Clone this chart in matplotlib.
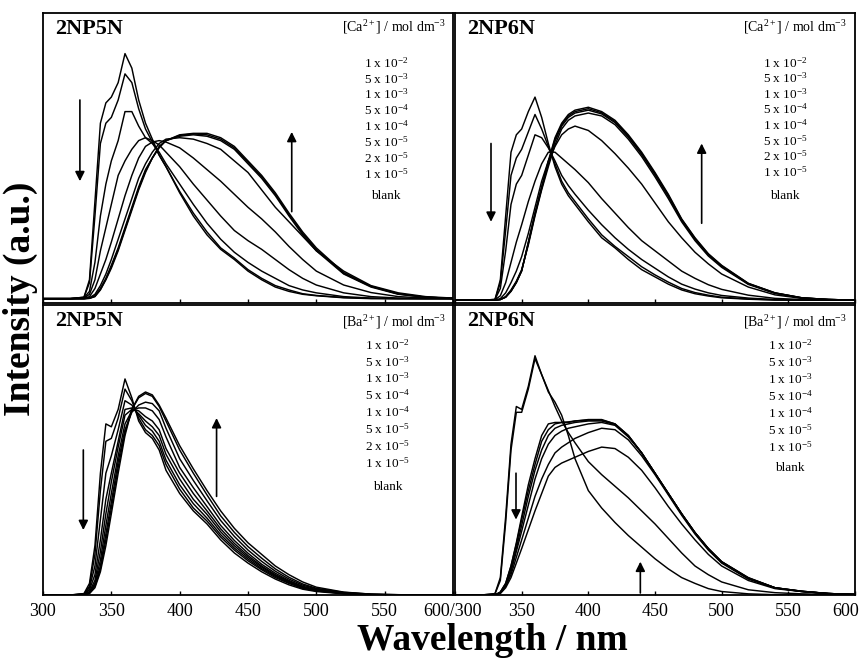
import matplotlib
matplotlib.use("Agg")
import matplotlib.pyplot as plt
import matplotlib.transforms as mtransforms

plt.rcParams['font.family'] = ['Liberation Serif', 'DejaVu Serif']
plt.rcParams['mathtext.fontset'] = 'custom'
plt.rcParams['mathtext.rm'] = 'Liberation Serif'
plt.rcParams['mathtext.it'] = 'Liberation Serif:italic'
plt.rcParams['mathtext.bf'] = 'Liberation Serif:bold'

# wavelength grid (nm) the spectra were read at
wl = [300, 320, 330, 334, 338, 342, 346, 350, 355, 360, 365, 370, 375, 380, 385, 390,
      400, 410, 420, 430, 440, 450, 460, 470, 480, 490, 500, 520, 540, 560, 580, 600]

# ---- 2NP5N + Ca2+ ----
ca5_blank = [0.015, 0.015, 0.02, 0.08, 0.35, 0.62, 0.69, 0.71, 0.76, 0.86, 0.81, 0.70, 0.62, 0.565, 0.51, 0.47,
             0.38, 0.30, 0.235, 0.185, 0.15, 0.11, 0.08, 0.055, 0.04, 0.03, 0.025, 0.018, 0.015, 0.015, 0.015, 0.015]
ca5_1e5 = [0.015, 0.015, 0.02, 0.07, 0.30, 0.55, 0.62, 0.64, 0.70, 0.79, 0.76, 0.67, 0.60, 0.555, 0.51, 0.47,
           0.385, 0.31, 0.245, 0.19, 0.155, 0.115, 0.085, 0.06, 0.045, 0.032, 0.026, 0.019, 0.016, 0.015, 0.015, 0.015]
ca5_2e5 = [0.015, 0.015, 0.018, 0.04, 0.14, 0.30, 0.41, 0.49, 0.56, 0.66, 0.66, 0.61, 0.57, 0.55, 0.52, 0.48,
           0.41, 0.34, 0.275, 0.22, 0.175, 0.14, 0.11, 0.085, 0.06, 0.045, 0.035, 0.022, 0.017, 0.015, 0.015, 0.015]
ca5_5e5 = [0.015, 0.015, 0.017, 0.03, 0.08, 0.18, 0.26, 0.34, 0.44, 0.49, 0.53, 0.56, 0.57, 0.56, 0.545, 0.52,
           0.47, 0.41, 0.355, 0.30, 0.25, 0.215, 0.185, 0.15, 0.115, 0.085, 0.062, 0.035, 0.022, 0.017, 0.015, 0.015]
ca5_1e4 = [0.015, 0.015, 0.016, 0.022, 0.05, 0.10, 0.15, 0.21, 0.29, 0.37, 0.44, 0.50, 0.54, 0.555, 0.56, 0.555,
           0.535, 0.50, 0.46, 0.42, 0.375, 0.33, 0.29, 0.245, 0.195, 0.15, 0.11, 0.062, 0.036, 0.022, 0.017, 0.015]
ca5_5e4 = [0.015, 0.015, 0.015, 0.018, 0.03, 0.06, 0.10, 0.15, 0.22, 0.29, 0.36, 0.43, 0.48, 0.52, 0.55, 0.565,
           0.57, 0.565, 0.55, 0.53, 0.49, 0.45, 0.39, 0.33, 0.28, 0.23, 0.18, 0.11, 0.06, 0.035, 0.022, 0.017]
ca5_1e3 = [0.015, 0.015, 0.015, 0.017, 0.025, 0.05, 0.085, 0.13, 0.19, 0.26, 0.33, 0.40, 0.46, 0.50, 0.54, 0.56,
           0.575, 0.58, 0.575, 0.56, 0.53, 0.48, 0.43, 0.37, 0.30, 0.235, 0.18, 0.10, 0.055, 0.03, 0.02, 0.016]
ca5_5e3 = [0.015, 0.015, 0.015, 0.016, 0.023, 0.047, 0.082, 0.125, 0.185, 0.255, 0.325, 0.395, 0.455, 0.50, 0.538, 0.56,
           0.578, 0.583, 0.58, 0.565, 0.535, 0.485, 0.435, 0.375, 0.305, 0.24, 0.185, 0.102, 0.057, 0.031, 0.02, 0.016]
ca5_1e2 = [0.015, 0.015, 0.015, 0.016, 0.022, 0.045, 0.08, 0.12, 0.18, 0.25, 0.32, 0.39, 0.45, 0.50, 0.535, 0.56,
           0.58, 0.585, 0.585, 0.57, 0.54, 0.49, 0.44, 0.38, 0.31, 0.245, 0.19, 0.105, 0.058, 0.032, 0.02, 0.016]

# ---- 2NP6N + Ca2+ ----
ca6_blank = [0.01, 0.01, 0.012, 0.08, 0.30, 0.52, 0.58, 0.60, 0.66, 0.71, 0.64, 0.55, 0.47, 0.41, 0.37, 0.34,
             0.28, 0.225, 0.19, 0.15, 0.115, 0.09, 0.065, 0.045, 0.032, 0.024, 0.018, 0.013, 0.01, 0.01, 0.01, 0.01]
ca6_1e5 = [0.01, 0.01, 0.012, 0.07, 0.25, 0.44, 0.50, 0.53, 0.59, 0.65, 0.60, 0.54, 0.48, 0.42, 0.38, 0.35,
           0.29, 0.235, 0.195, 0.16, 0.125, 0.097, 0.072, 0.05, 0.036, 0.027, 0.02, 0.014, 0.011, 0.01, 0.01, 0.01]
ca6_2e5 = [0.01, 0.01, 0.012, 0.05, 0.18, 0.34, 0.41, 0.44, 0.51, 0.58, 0.57, 0.535, 0.49, 0.44, 0.405, 0.375,
           0.32, 0.27, 0.225, 0.185, 0.15, 0.12, 0.09, 0.065, 0.048, 0.035, 0.026, 0.017, 0.012, 0.01, 0.01, 0.01]
ca6_5e5 = [0.01, 0.01, 0.011, 0.025, 0.07, 0.14, 0.21, 0.27, 0.35, 0.42, 0.48, 0.52, 0.52, 0.50, 0.48, 0.46,
           0.415, 0.36, 0.31, 0.26, 0.215, 0.18, 0.145, 0.11, 0.085, 0.063, 0.047, 0.027, 0.016, 0.012, 0.01, 0.01]
ca6_1e4 = [0.01, 0.01, 0.01, 0.015, 0.035, 0.07, 0.11, 0.16, 0.24, 0.33, 0.42, 0.49, 0.54, 0.58, 0.60, 0.61,
           0.595, 0.56, 0.515, 0.465, 0.41, 0.345, 0.28, 0.225, 0.175, 0.135, 0.10, 0.055, 0.028, 0.016, 0.012, 0.01]
ca6_5e4 = [0.01, 0.01, 0.01, 0.012, 0.022, 0.045, 0.075, 0.115, 0.20, 0.30, 0.39, 0.47, 0.545, 0.60, 0.63, 0.645,
           0.655, 0.645, 0.615, 0.565, 0.505, 0.435, 0.36, 0.28, 0.215, 0.162, 0.123, 0.064, 0.033, 0.017, 0.012, 0.01]
ca6_1e3 = [0.01, 0.01, 0.01, 0.012, 0.021, 0.042, 0.072, 0.112, 0.205, 0.305, 0.395, 0.48, 0.557, 0.61, 0.64, 0.655,
           0.665, 0.652, 0.622, 0.572, 0.512, 0.442, 0.367, 0.285, 0.22, 0.166, 0.126, 0.066, 0.034, 0.018, 0.012, 0.01]
ca6_5e3 = [0.01, 0.01, 0.01, 0.012, 0.02, 0.041, 0.071, 0.111, 0.208, 0.308, 0.398, 0.485, 0.565, 0.615, 0.645, 0.66,
           0.67, 0.656, 0.626, 0.576, 0.516, 0.446, 0.371, 0.288, 0.223, 0.168, 0.128, 0.067, 0.035, 0.018, 0.012, 0.01]
ca6_1e2 = [0.01, 0.01, 0.01, 0.012, 0.02, 0.04, 0.07, 0.11, 0.21, 0.31, 0.40, 0.49, 0.57, 0.62, 0.65, 0.665,
           0.675, 0.66, 0.63, 0.58, 0.52, 0.45, 0.375, 0.29, 0.225, 0.17, 0.13, 0.068, 0.035, 0.018, 0.012, 0.01]

# ---- 2NP5N + Ba2+ ----
ba5_blank = [0, 0, 0.005, 0.04, 0.17, 0.42, 0.59, 0.58, 0.64, 0.745, 0.68, 0.60, 0.56, 0.54, 0.50, 0.43,
             0.35, 0.29, 0.245, 0.19, 0.145, 0.11, 0.08, 0.055, 0.035, 0.02, 0.012, 0.004, 0.001, 0, 0, 0]
ba5_1e5 = [0, 0, 0.004, 0.03, 0.14, 0.36, 0.53, 0.54, 0.61, 0.71, 0.67, 0.61, 0.57, 0.55, 0.515, 0.45,
           0.365, 0.30, 0.255, 0.20, 0.155, 0.118, 0.087, 0.06, 0.04, 0.023, 0.014, 0.005, 0.001, 0, 0, 0]
ba5_2e5 = [0, 0, 0.003, 0.025, 0.10, 0.26, 0.42, 0.48, 0.57, 0.67, 0.655, 0.62, 0.585, 0.565, 0.53, 0.465,
           0.38, 0.315, 0.265, 0.208, 0.162, 0.124, 0.091, 0.064, 0.042, 0.025, 0.015, 0.005, 0.001, 0, 0, 0]
ba5_5e5 = [0, 0, 0.002, 0.018, 0.07, 0.19, 0.33, 0.42, 0.53, 0.64, 0.645, 0.625, 0.60, 0.58, 0.55, 0.485,
           0.40, 0.33, 0.278, 0.218, 0.17, 0.13, 0.096, 0.067, 0.045, 0.027, 0.016, 0.006, 0.001, 0, 0, 0]
ba5_1e4 = [0, 0, 0.002, 0.012, 0.05, 0.15, 0.28, 0.39, 0.51, 0.62, 0.64, 0.635, 0.615, 0.60, 0.57, 0.505,
           0.42, 0.35, 0.29, 0.228, 0.178, 0.136, 0.10, 0.07, 0.047, 0.028, 0.017, 0.006, 0.001, 0, 0, 0]
ba5_5e4 = [0, 0, 0.001, 0.01, 0.04, 0.12, 0.24, 0.35, 0.48, 0.59, 0.635, 0.645, 0.645, 0.635, 0.605, 0.545,
           0.44, 0.37, 0.305, 0.24, 0.188, 0.144, 0.106, 0.075, 0.05, 0.03, 0.018, 0.007, 0.002, 0, 0, 0]
ba5_1e3 = [0, 0, 0.001, 0.008, 0.035, 0.10, 0.21, 0.32, 0.46, 0.57, 0.63, 0.655, 0.665, 0.66, 0.635, 0.575,
           0.47, 0.395, 0.325, 0.257, 0.202, 0.155, 0.116, 0.082, 0.055, 0.034, 0.021, 0.008, 0.002, 0, 0, 0]
ba5_5e3 = [0, 0, 0, 0.006, 0.03, 0.09, 0.19, 0.30, 0.44, 0.56, 0.64, 0.68, 0.695, 0.685, 0.65, 0.60,
           0.50, 0.42, 0.345, 0.273, 0.216, 0.167, 0.127, 0.09, 0.061, 0.038, 0.023, 0.009, 0.003, 0.001, 0, 0]
ba5_1e2 = [0, 0, 0, 0.005, 0.025, 0.08, 0.17, 0.28, 0.42, 0.55, 0.64, 0.685, 0.70, 0.69, 0.655, 0.61,
           0.515, 0.435, 0.36, 0.29, 0.23, 0.18, 0.14, 0.10, 0.07, 0.045, 0.027, 0.01, 0.003, 0.001, 0, 0]

# ---- 2NP6N + Ba2+ ----
ba6_blank = [0, 0, 0.005, 0.06, 0.27, 0.52, 0.65, 0.64, 0.72, 0.825, 0.76, 0.70, 0.665, 0.62, 0.55, 0.47,
             0.36, 0.30, 0.25, 0.205, 0.165, 0.125, 0.09, 0.06, 0.04, 0.022, 0.012, 0.004, 0.001, 0, 0, 0]
ba6_1e5 = [0, 0, 0.004, 0.05, 0.25, 0.50, 0.63, 0.63, 0.71, 0.815, 0.76, 0.705, 0.65, 0.60, 0.56, 0.525,
           0.46, 0.415, 0.375, 0.335, 0.29, 0.245, 0.195, 0.145, 0.10, 0.07, 0.045, 0.018, 0.008, 0.004, 0.002, 0]
ba6_5e5 = [0, 0, 0, 0.005, 0.025, 0.06, 0.11, 0.16, 0.225, 0.29, 0.35, 0.41, 0.44, 0.455, 0.465, 0.475,
           0.495, 0.51, 0.505, 0.475, 0.43, 0.37, 0.305, 0.245, 0.19, 0.14, 0.10, 0.05, 0.022, 0.012, 0.005, 0.002]
ba6_1e4 = [0, 0, 0, 0.007, 0.03, 0.07, 0.13, 0.19, 0.265, 0.34, 0.40, 0.45, 0.49, 0.51, 0.525, 0.54,
           0.56, 0.575, 0.57, 0.535, 0.48, 0.415, 0.345, 0.275, 0.21, 0.155, 0.11, 0.055, 0.024, 0.012, 0.005, 0.002]
ba6_5e4 = [0, 0, 0, 0.008, 0.033, 0.08, 0.15, 0.22, 0.31, 0.40, 0.47, 0.52, 0.55, 0.565, 0.575, 0.58,
           0.59, 0.595, 0.585, 0.545, 0.49, 0.42, 0.35, 0.28, 0.215, 0.16, 0.113, 0.057, 0.025, 0.013, 0.005, 0.002]
ba6_1e3 = [0, 0, 0, 0.009, 0.036, 0.09, 0.16, 0.24, 0.34, 0.43, 0.50, 0.55, 0.575, 0.585, 0.59, 0.595,
           0.60, 0.60, 0.588, 0.548, 0.49, 0.42, 0.35, 0.28, 0.215, 0.16, 0.114, 0.058, 0.025, 0.013, 0.005, 0.002]
ba6_5e3 = [0, 0, 0, 0.01, 0.04, 0.10, 0.175, 0.26, 0.36, 0.45, 0.53, 0.57, 0.59, 0.595, 0.597, 0.60,
           0.603, 0.603, 0.59, 0.55, 0.49, 0.42, 0.35, 0.28, 0.215, 0.16, 0.115, 0.059, 0.025, 0.013, 0.005, 0.002]
ba6_1e2 = [0, 0, 0, 0.01, 0.04, 0.10, 0.18, 0.27, 0.38, 0.47, 0.55, 0.59, 0.595, 0.595, 0.595, 0.60,
           0.605, 0.605, 0.59, 0.55, 0.49, 0.42, 0.35, 0.28, 0.215, 0.16, 0.115, 0.06, 0.025, 0.012, 0.005, 0.002]

conc9 = ['1 x 10$^{-2}$', '5 x 10$^{-3}$', '1 x 10$^{-3}$', '5 x 10$^{-4}$', '1 x 10$^{-4}$',
         '5 x 10$^{-5}$', '2 x 10$^{-5}$', '1 x 10$^{-5}$', 'blank']
conc8 = ['1 x 10$^{-2}$', '5 x 10$^{-3}$', '1 x 10$^{-3}$', '5 x 10$^{-4}$', '1 x 10$^{-4}$',
         '5 x 10$^{-5}$', '1 x 10$^{-5}$', 'blank']

xticks = [300, 350, 400, 450, 500, 550, 600]

W, H = 866, 658
fig = plt.figure(figsize=(W / 100, H / 100), dpi=100)


def add_ax(l, t, r, b):
    return fig.add_axes([l / W, 1 - b / H, (r - l) / W, (b - t) / H])


panels = [
    # axes box (px), name, ion, curves, legend labels, header/first/last row offsets (px), arrows
    dict(box=(43, 13, 453, 303), name='2NP5N', ion='Ca',
         curves=[ca5_blank, ca5_1e5, ca5_2e5, ca5_5e5, ca5_1e4, ca5_5e4, ca5_1e3, ca5_5e3, ca5_1e2],
         labels=conc9, head=14, first=50, last=161, blank=183, lx=0.855, cx=0.837,
         arrows=[(327, 0.70, 0.42), (482, 0.315, 0.59)]),
    dict(box=(455, 13, 855, 303), name='2NP6N', ion='Ca',
         curves=[ca6_blank, ca6_1e5, ca6_2e5, ca6_5e5, ca6_1e4, ca6_5e4, ca6_1e3, ca6_5e3, ca6_1e2],
         labels=conc9, head=14, first=50, last=159, blank=183, lx=0.85, cx=0.825,
         arrows=[(327, 0.55, 0.28), (485, 0.275, 0.55)]),
    dict(box=(43, 305, 453, 595), name='2NP5N', ion='Ba',
         curves=[ba5_blank, ba5_1e5, ba5_2e5, ba5_5e5, ba5_1e4, ba5_5e4, ba5_1e3, ba5_5e3, ba5_1e2],
         labels=conc9, head=17, first=40, last=158, blank=182, lx=0.855, cx=0.84,
         arrows=[(329.5, 0.50, 0.224), (427, 0.34, 0.61)]),
    dict(box=(455, 305, 855, 595), name='2NP6N', ion='Ba',
         curves=[ba6_blank, ba6_1e5, ba6_5e5, ba6_1e4, ba6_5e4, ba6_1e3, ba6_5e3, ba6_1e2],
         labels=conc8, head=17, first=40, last=142, blank=163, lx=0.85, cx=0.8375,
         arrows=[(345.75, 0.42, 0.26), (439, 0.007, 0.115)]),
]

axes = []
for i, p in enumerate(panels):
    ax = add_ax(*p['box'])
    axes.append(ax)
    for c in p['curves']:
        ax.plot(wl, c, color='black', lw=1.05)
    ax.set_xlim(300, 600)
    ax.set_ylim(0, 1)
    ax.set_xticks(xticks)
    ax.set_yticks([])
    ax.tick_params(axis='x', direction='in', length=3, width=1, labelsize=13, pad=6)
    for s in ax.spines.values():
        s.set_linewidth(1.3)
    if i < 2:
        ax.set_xticklabels([])
    ax.text(0.03, 1 - 16 / 290, p['name'], transform=ax.transAxes, fontsize=16,
            fontweight='bold', ha='left', va='center')
    ax.text(p['lx'], 1 - p['head'] / 290, '[' + p['ion'] + '$^{2+}$] / mol dm$^{-3}$',
            transform=ax.transAxes, fontsize=10, ha='center', va='center')
    rows = p['labels'][:-1]
    step = (p['last'] - p['first']) / (len(rows) - 1)
    for k, lab in enumerate(rows):
        ax.text(p['cx'], 1 - (p['first'] + k * step) / 290, lab, transform=ax.transAxes,
                fontsize=9.5, ha='center', va='center')
    ax.text(p['cx'], 1 - p['blank'] / 290, p['labels'][-1], transform=ax.transAxes,
            fontsize=9.5, ha='center', va='center')
    for x, y0, y1 in p['arrows']:
        ax.annotate('', xy=(x, y1), xytext=(x, y0),
                    arrowprops=dict(arrowstyle='-|>', color='black', lw=1.2, mutation_scale=14,
                                    shrinkA=0, shrinkB=0))

axes[2].set_xticklabels(['300', '350', '400', '450', '500', '550', '600/300'])
axes[3].set_xticklabels(['', '350', '400', '450', '500', '550', '600'])
shift = mtransforms.ScaledTranslation(-7 / 72, 0, fig.dpi_scale_trans)
last = axes[3].get_xticklabels()[-1]
last.set_transform(last.get_transform() + shift)

fig.text(492 / W, 1 - 641 / H, 'Wavelength / nm', fontsize=27, fontweight='bold',
         ha='center', va='center')
fig.text(20 / W, 1 - 299 / H, 'Intensity (a.u.)', fontsize=27, fontweight='bold',
         ha='center', va='center', rotation=90)

fig.savefig('out.png', dpi=100)
